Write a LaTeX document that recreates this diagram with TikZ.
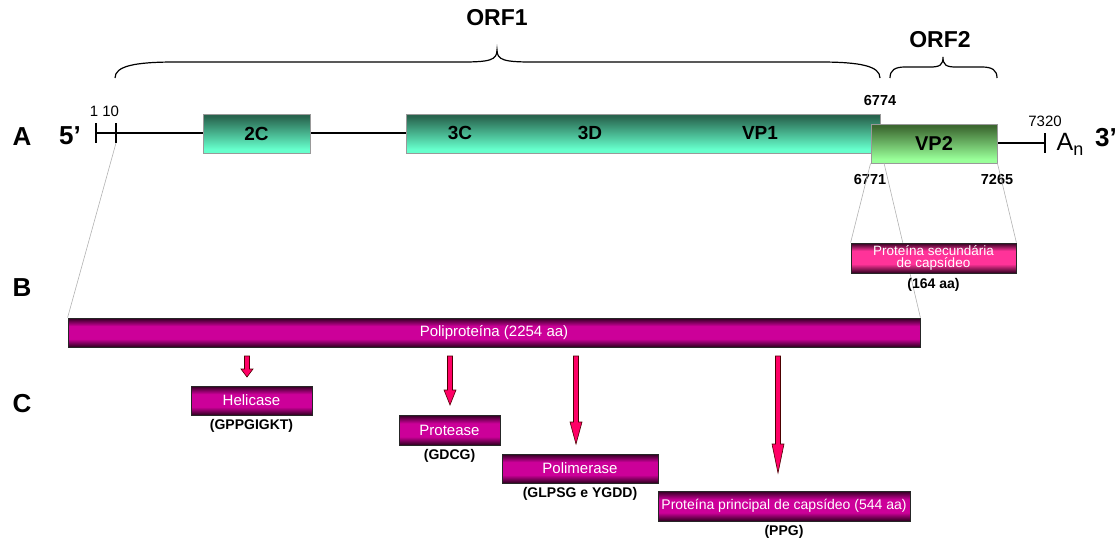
\documentclass[tikz,border=0pt]{standalone}
\usepackage{fontspec}
\setmainfont{Liberation Sans}
\usetikzlibrary{positioning}
\newcommand{\fsz}[1]{\fontsize{#1}{#1}\selectfont}
\definecolor{tealdark}{RGB}{40,100,78}
\definecolor{teallight}{RGB}{102,255,204}
\definecolor{lgdark}{RGB}{60,104,48}
\definecolor{lglight}{RGB}{153,255,153}
\definecolor{magdark}{RGB}{45,0,30}
\definecolor{magmid}{RGB}{204,0,153}
\definecolor{pinkmid}{RGB}{255,51,153}
\definecolor{arrred}{RGB}{255,0,102}
\pgfdeclareverticalshading{tealbar}{100bp}{color(0bp)=(teallight); color(25bp)=(teallight); color(30bp)=(teallight); color(72bp)=(tealdark); color(100bp)=(tealdark)}
\pgfdeclareverticalshading{lgbar}{100bp}{color(0bp)=(lglight); color(25bp)=(lglight); color(30bp)=(lglight); color(72bp)=(lgdark); color(100bp)=(lgdark)}
\pgfdeclareverticalshading{magbar}{100bp}{color(0bp)=(magdark); color(25bp)=(magdark); color(39bp)=(magmid); color(61bp)=(magmid); color(75bp)=(magdark); color(100bp)=(magdark)}
\pgfdeclareverticalshading{pinkbar}{100bp}{color(0bp)=(magdark); color(25bp)=(magdark); color(40bp)=(pinkmid); color(62bp)=(pinkmid); color(75bp)=(magdark); color(100bp)=(magdark)}

\begin{document}
\begin{tikzpicture}[x=1pt,y=-1pt,
   seg/.style={draw=gray!80,line width=1pt,shade,shading=tealbar,inner sep=0pt,minimum height=39,font=\bfseries\fsz{19}},
   prot/.style={draw=black!85,line width=0.8pt,shade,shading=magbar,inner sep=0pt,minimum height=29,text=white,font=\fsz{15}},
   sub/.style={inner sep=0pt,font=\bfseries\fsz{14}},
   num/.style={inner sep=0pt,font=\fsz{15}},
   big/.style={inner sep=0pt,font=\bfseries\fsz{26}},
   guide/.style={gray!60,line width=0.6pt},
   arr/.style={fill=arrred,draw=black!70!red,line width=0.6pt}]
   \useasboundingbox (0,0) rectangle (1117,539);

   % genome
   \draw[line width=1.2pt] (96,133) -- (203,133) (310,133) -- (406,133) (997,143) -- (1045,143);
   \foreach \x in {96,116} {
    \draw[line width=1.2pt] (\x,123) -- (\x,143);
   }
   \draw[line width=1.2pt] (1045,133) -- (1045,153);
   \coordinate (t10) at (116,143);
   \node[seg,minimum width=107] (c2) at (256.5,133.5) {2C};
   \node[seg,minimum width=474] (orf) at (643,133.5) {};
   \node[seg,shading=lgbar,minimum width=126,font=\bfseries\fsz{20}] (vp2) at (934,143.5) {VP2};
   \node[inner sep=0pt,font=\bfseries\fsz{19}] at (460,133) {3C};
   \node[inner sep=0pt,font=\bfseries\fsz{19}] at (590,133) {3D};
   \node[inner sep=0pt,font=\bfseries\fsz{19}] at (760,133) {VP1};

   \node[big] at (22,137) {A};
   \node[big] at (22,288) {B};
   \node[big] at (22,404) {C};
   \node[big] at (70,136) {5’};
   \node[big] at (1106,138) {3’};
   \node[inner sep=0pt,font=\fsz{25}] at (1070,144) {A\raisebox{-5pt}{\fsz{18}n}};
   \node[num] at (104.5,111) {1 10};
   \node[num] at (1045,121) {7320};
   \node[num,font=\bfseries\fsz{14.5}] at (880,101) {6774};
   \node[num,font=\bfseries\fsz{14.5}] at (870,180) {6771};
   \node[num,font=\bfseries\fsz{14.5}] at (997,180) {7265};

   % ORFs
   \draw[line width=1.2pt] (115,78) .. controls (115,66) and (135,62) .. (175,62) -- (462,62)
     .. controls (490,62) and (497,60) .. (497,50) .. controls (497,60) and (504,62) .. (532,62)
     -- (820,62) .. controls (860,62) and (880,66) .. (880,78);
   \draw[line width=1.2pt] (890,78) .. controls (890,70) and (895,67) .. (905,67) -- (930,67)
     .. controls (940,67) and (943,65) .. (943,57) .. controls (943,65) and (946,67) .. (956,67)
     -- (982,67) .. controls (992,67) and (997,70) .. (997,78);
   \node[inner sep=0pt,font=\bfseries\fsz{23}] at (497,18) {ORF1};
   \node[inner sep=0pt,font=\bfseries\fsz{23}] at (940,40) {ORF2};

   % proteins
   \coordinate (v6771) at (884,163);
   \node[prot,minimum width=852] (poly) at (494,332.5) {};
   \node[prot,shading=pinkbar,minimum width=165,minimum height=30] (sec) at (933.5,258) {};
   \draw[guide] (t10) -- (poly.north west);
   \draw[guide] (vp2.south west) -- (sec.north west);
   \draw[guide] (vp2.south east) -- (sec.north east);
   \draw[guide] (v6771) -- (poly.north east);
   \node[prot,minimum width=852] at (494,332.5) {Poliproteína (2254 aa)};
   \node[prot,shading=pinkbar,minimum width=165,minimum height=30,align=center,font=\fontsize{13.5}{12}\selectfont] at (933.5,258) {Proteína secundária\\de capsídeo};
   \node[sub,below=5pt of sec] {(164 aa)};

   \node[prot,minimum width=121] (hel) at (251.5,400.5) {Helicase};
   \node[prot,minimum width=101,minimum height=30] (pro) at (449.5,430) {Protease};
   \node[prot,minimum width=156] (pol) at (580,468.5) {Polimerase};
   \node[prot,minimum width=252,minimum height=30,font=\fsz{14}] (cap) at (784,506) {Proteína principal de capsídeo (544 aa)};
   \node[sub,below=4pt of hel] {(GPPGIGKT)};
   \node[sub,below=4pt of pro] {(GDCG)};
   \node[sub,below=4pt of pol] {(GLPSG e YGDD)};
   \node[sub,below=4pt of cap] {(PPG)};

   \foreach \x/\l/\h in {247/21/8,450/49/15,576/88/22,778/117/29} {
    \filldraw[arr] ({\x-2.5},356) -- ({\x-2.5},{356+\l-\h}) -- ({\x-6},{356+\l-\h}) -- (\x,{356+\l})
      -- ({\x+6},{356+\l-\h}) -- ({\x+2.5},{356+\l-\h}) -- ({\x+2.5},356) -- cycle;
   }
\end{tikzpicture}
\end{document}
